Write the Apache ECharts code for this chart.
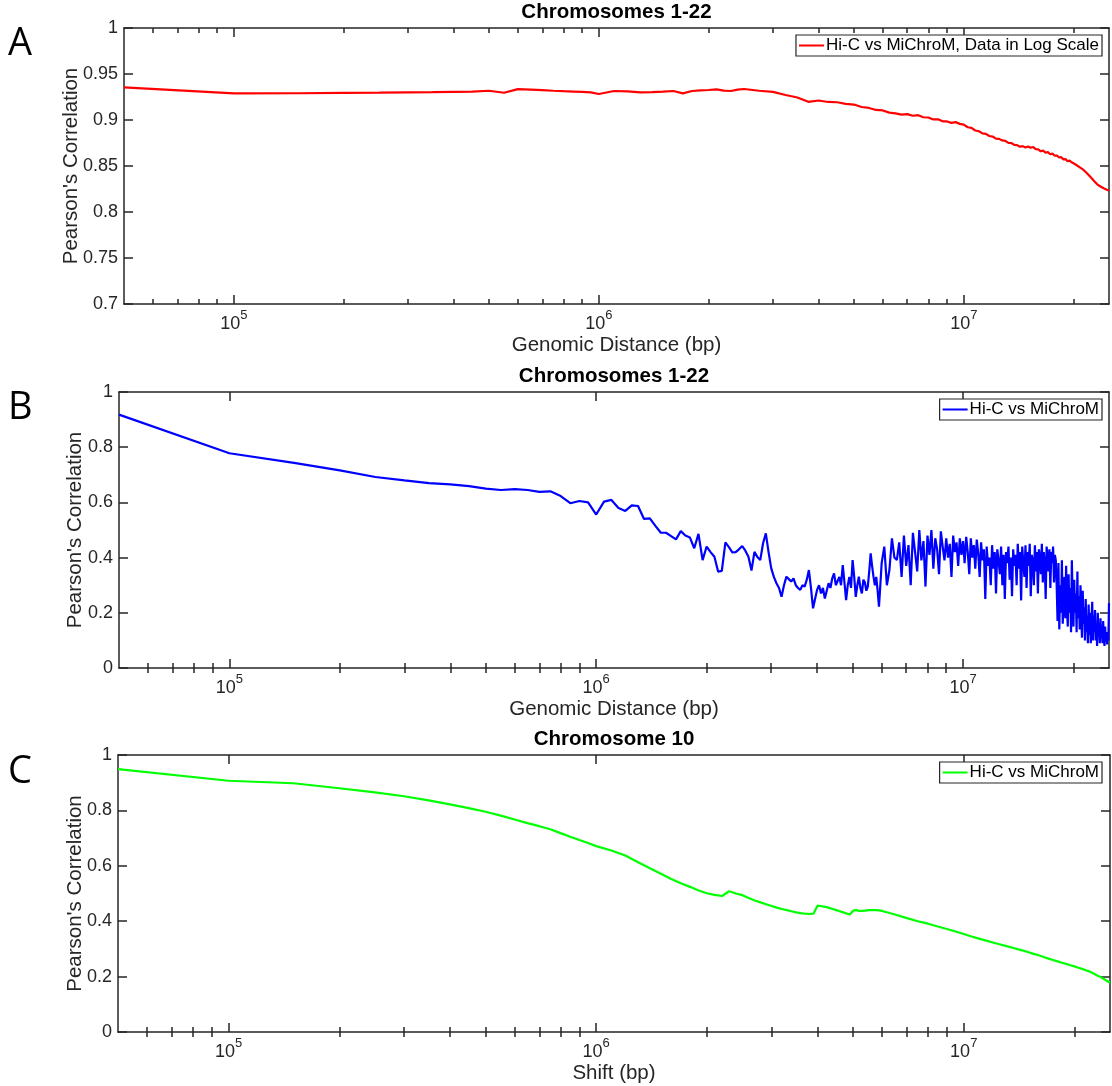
<!DOCTYPE html>
<html>
<head>
<meta charset="utf-8">
<script src="https://cdn.jsdelivr.net/npm/echarts@6/dist/echarts.min.js"></script>
<style>
  html, body { margin: 0; padding: 0; background: #fff; }
  #chart { width: 1112px; height: 1086px; }
</style>
</head>
<body>
<div id="chart"></div>
<script>
// ---- tick positions on the genomic-distance axis (bp) ----
const decadeTicks = [1e5, 1e6, 1e7];
const minorTicks = [6e4, 7e4, 8e4, 9e4,
  2e5, 3e5, 4e5, 5e5, 6e5, 7e5, 8e5, 9e5,
  2e6, 3e6, 4e6, 5e6, 6e6, 7e6, 8e6, 9e6,
  2e7];
const X_MIN = 5e4;
const X_MAX = 2.5e7;

// ---- A: Hi-C vs MiChroM, log-scaled maps, chromosomes 1-22 ----
// 50 kb bins, 50 kb .. 1 Mb
const corrA_near = [0.9355, 0.9290, 0.9291, 0.9294, 0.9297, 0.9301, 0.9303, 0.9306, 0.9308, 0.9318,
  0.9296, 0.9336, 0.9331, 0.9325, 0.9318, 0.9313, 0.9309, 0.9305, 0.9300, 0.9283];
// 100 kb steps, 1.1 Mb .. 2.5 Mb
const corrA_mid = [0.9315, 0.9312, 0.9301, 0.9304, 0.9308, 0.9315, 0.9290, 0.9315, 0.9322, 0.9326,
  0.9333, 0.9319, 0.9315, 0.9330, 0.9337];
// 250 kb steps, 2.75 Mb .. 25 Mb
const corrA_far = [0.9318, 0.9305, 0.9272, 0.9245, 0.9198, 0.9212, 0.9196, 0.9193, 0.9176, 0.9168,
  0.9141, 0.9131, 0.9109, 0.9104, 0.9080, 0.9072, 0.9059, 0.9064, 0.9046, 0.9052,
  0.9030, 0.9027, 0.9006, 0.9008, 0.8986, 0.8984, 0.8969, 0.8977, 0.8958, 0.8950,
  0.8921, 0.8914, 0.8886, 0.8878, 0.8854, 0.8850, 0.8826, 0.8820, 0.8798, 0.8795,
  0.8778, 0.8774, 0.8752, 0.8750, 0.8729, 0.8727, 0.8709, 0.8716, 0.8702, 0.8712,
  0.8698, 0.8706, 0.8684, 0.8681, 0.8660, 0.8667, 0.8645, 0.8650, 0.8628, 0.8634,
  0.8612, 0.8614, 0.8592, 0.8596, 0.8572, 0.8575, 0.8552, 0.8558, 0.8540, 0.8544,
  0.8516, 0.8515, 0.8488, 0.8486, 0.8460, 0.8454, 0.8422, 0.8415, 0.8380, 0.8372,
  0.8338, 0.8332, 0.8298, 0.8296, 0.8274, 0.8276, 0.8255, 0.8254, 0.8238, 0.8235];

// ---- B: Hi-C vs MiChroM, chromosomes 1-22 ----
// 50 kb bins, 50 kb .. 3 Mb
const corrB_near = [0.918, 0.778, 0.743, 0.716, 0.692, 0.680, 0.670, 0.665, 0.659, 0.650,
  0.645, 0.648, 0.645, 0.638, 0.640, 0.623, 0.597, 0.605, 0.600, 0.556,
  0.603, 0.609, 0.580, 0.569, 0.589, 0.587, 0.540, 0.542, 0.515, 0.490,
  0.490, 0.478, 0.466, 0.496, 0.480, 0.473, 0.434, 0.486, 0.391, 0.440,
  0.420, 0.403, 0.349, 0.352, 0.455, 0.438, 0.419, 0.420, 0.430, 0.442,
  0.425, 0.403, 0.353, 0.421, 0.402, 0.391, 0.452, 0.488, 0.420, 0.361];
// 50 kb bins, 3.05 Mb .. 6 Mb
const corrB_mid = [0.330, 0.307, 0.290, 0.258, 0.300, 0.331, 0.322, 0.313, 0.325, 0.300,
  0.290, 0.283, 0.300, 0.295, 0.320, 0.355, 0.290, 0.216, 0.250, 0.283,
  0.300, 0.270, 0.290, 0.252, 0.280, 0.307, 0.290, 0.325, 0.343, 0.300,
  0.295, 0.330, 0.300, 0.373, 0.310, 0.246, 0.300, 0.330, 0.290, 0.391,
  0.330, 0.258, 0.300, 0.331, 0.290, 0.270, 0.320, 0.310, 0.280, 0.295,
  0.350, 0.415, 0.370, 0.331, 0.300, 0.330, 0.280, 0.222, 0.300, 0.380];
// 100 kb steps, 6.1 Mb .. 25 Mb
const corrB_far = [
  0.440, 0.300, 0.355, 0.470, 0.400, 0.391, 0.455, 0.330, 0.480,
  0.370, 0.445, 0.300, 0.490, 0.420, 0.350, 0.500, 0.390, 0.460, 0.295,
  0.480, 0.410, 0.500, 0.360, 0.470, 0.430, 0.340, 0.495, 0.440, 0.390,
  0.470, 0.400, 0.450, 0.330, 0.480, 0.420, 0.455, 0.370, 0.470, 0.410,
  0.460, 0.380, 0.475, 0.420, 0.340, 0.470, 0.400, 0.445, 0.360, 0.465,
  0.415, 0.330, 0.455, 0.390, 0.430, 0.250, 0.440, 0.370, 0.400, 0.300,
  0.445, 0.360, 0.420, 0.270, 0.430, 0.390, 0.340, 0.440, 0.300, 0.410,
  0.250, 0.420, 0.380, 0.440, 0.320, 0.400, 0.260, 0.430, 0.370, 0.410,
  0.300, 0.450, 0.360, 0.420, 0.245, 0.440, 0.380, 0.330, 0.445, 0.290,
  0.420, 0.370, 0.450, 0.260, 0.410, 0.390, 0.300, 0.445, 0.350, 0.420,
  0.270, 0.430, 0.400, 0.340, 0.450, 0.310, 0.420, 0.380, 0.250, 0.440,
  0.400, 0.350, 0.430, 0.290, 0.420, 0.380, 0.440, 0.310, 0.410, 0.390,
  0.300, 0.170, 0.380, 0.140, 0.300, 0.200, 0.390, 0.160, 0.260, 0.330,
  0.180, 0.370, 0.220, 0.150, 0.340, 0.200, 0.290, 0.130, 0.390, 0.240,
  0.150, 0.320, 0.200, 0.270, 0.130, 0.350, 0.180, 0.260, 0.140, 0.300,
  0.200, 0.110, 0.280, 0.160, 0.220, 0.100, 0.250, 0.130, 0.190, 0.090,
  0.230, 0.120, 0.200, 0.090, 0.170, 0.240, 0.100, 0.190, 0.130, 0.210,
  0.100, 0.160, 0.080, 0.200, 0.120, 0.150, 0.090, 0.180, 0.110, 0.140,
  0.090, 0.170, 0.110, 0.080, 0.150, 0.100, 0.130, 0.085, 0.120, 0.100, 0.235];

// ---- C: Hi-C vs MiChroM against shift, chromosome 10 ----
// 50 kb bins, 50 kb .. 1 Mb
const corrC_near = [0.949, 0.907, 0.898, 0.880, 0.865, 0.851, 0.836, 0.822, 0.808, 0.795,
  0.781, 0.767, 0.754, 0.743, 0.732, 0.718, 0.705, 0.693, 0.682, 0.671];
// 100 kb steps, 1.1 Mb .. 6 Mb
const corrC_mid = [0.655, 0.637, 0.613, 0.591, 0.571, 0.552, 0.537, 0.524, 0.511, 0.501,
  0.495, 0.491, 0.508, 0.500, 0.494, 0.484, 0.475, 0.468, 0.461, 0.455,
  0.449, 0.444, 0.440, 0.436, 0.432, 0.429, 0.427, 0.426, 0.427, 0.456,
  0.454, 0.452, 0.448, 0.444, 0.440, 0.436, 0.432, 0.428, 0.424, 0.438,
  0.440, 0.437, 0.437, 0.438, 0.440, 0.440, 0.440, 0.440, 0.439, 0.437];
// 500 kb steps, 6.5 Mb .. 25 Mb
const corrC_far = [0.424, 0.411, 0.400, 0.391, 0.381, 0.372, 0.363, 0.354, 0.345, 0.337,
  0.330, 0.323, 0.317, 0.311, 0.305, 0.299, 0.294, 0.288, 0.282, 0.277,
  0.271, 0.265, 0.260, 0.255, 0.250, 0.246, 0.241, 0.237, 0.232, 0.228,
  0.223, 0.218, 0.212, 0.205, 0.199, 0.192, 0.185, 0.178];

// pair each value with the genomic distance of its bin
function binned(startBp, stepBp, values) {
  return values.map((v, i) => [startBp + i * stepBp, v]);
}

const seriesA = [].concat(
  binned(5e4, 5e4, corrA_near), binned(1.1e6, 1e5, corrA_mid), binned(2.75e6, 2.5e5, corrA_far));
const seriesB = [].concat(
  binned(5e4, 5e4, corrB_near), binned(3.05e6, 5e4, corrB_mid), binned(6.1e6, 1e5, corrB_far));
const seriesC = [].concat(
  binned(5e4, 5e4, corrC_near), binned(1.1e6, 1e5, corrC_mid), binned(6.5e6, 5e5, corrC_far));

const FONT = '"Liberation Sans", Arial, Helvetica, sans-serif';
const INK = '#262626';

const panels = [
  { letter: 'A', title: 'Chromosomes 1-22', xName: 'Genomic Distance (bp)',
    name: 'Hi-C vs MiChroM, Data in Log Scale', color: '#ff0000', data: seriesA,
    yMin: 0.7, yMax: 1, yStep: 0.05,
    left: 124, top: 28, width: 985, height: 276, yNameGap: 42, legendTop: 35, letterY: 44 },
  { letter: 'B', title: 'Chromosomes 1-22', xName: 'Genomic Distance (bp)',
    name: 'Hi-C vs MiChroM', color: '#0000ff', data: seriesB,
    yMin: 0, yMax: 1, yStep: 0.2,
    left: 119, top: 392, width: 990, height: 276, yNameGap: 33, legendTop: 399, letterY: 408 },
  { letter: 'C', title: 'Chromosome 10', xName: 'Shift (bp)',
    name: 'Hi-C vs MiChroM', color: '#00ff00', data: seriesC,
    yMin: 0, yMax: 1, yStep: 0.2,
    left: 118, top: 755, width: 992, height: 277, yNameGap: 32, legendTop: 762, letterY: 772 }
];

const boxLine = { color: INK, width: 1.5 };

const grid = [], xAxis = [], yAxis = [], series = [], legend = [], graphic = [];

panels.forEach((p, g) => {
  grid.push({ left: p.left, top: p.top, width: p.width, height: p.height, containLabel: false });

  const logAxis = (extra) => Object.assign({
    gridIndex: g, type: 'log', logBase: 10, min: X_MIN, max: X_MAX,
    splitLine: { show: false }, minorTick: { show: false }, minorSplitLine: { show: false },
    axisPointer: { show: false }
  }, extra);

  // bottom: decades with labels
  xAxis.push(logAxis({
    position: 'bottom',
    name: p.xName, nameLocation: 'middle', nameGap: 31, nameMoveOverlap: false,
    nameTextStyle: { fontFamily: FONT, fontSize: 20.5, color: INK },
    axisLine: { show: true, onZero: false, lineStyle: boxLine },
    axisTick: { show: true, inside: true, length: 9, customValues: decadeTicks, lineStyle: boxLine },
    axisLabel: {
      show: true, customValues: decadeTicks, margin: 5,
      formatter: v => '{b|10}{s|' + Math.round(Math.log10(v)) + '}',
      rich: {
        b: { fontFamily: FONT, fontSize: 18, color: INK, padding: [6, 0, 0, 0], verticalAlign: 'bottom' },
        s: { fontFamily: FONT, fontSize: 13, color: INK, verticalAlign: 'top' }
      }
    }
  }));
  // bottom: intermediate ticks
  xAxis.push(logAxis({
    position: 'bottom',
    axisLine: { show: false },
    axisTick: { show: true, inside: true, length: 5, customValues: minorTicks, lineStyle: boxLine },
    axisLabel: { show: false }
  }));
  // top edge of the box
  xAxis.push(logAxis({
    position: 'top',
    axisLine: { show: true, onZero: false, lineStyle: boxLine },
    axisTick: { show: true, inside: true, length: 9, customValues: decadeTicks, lineStyle: boxLine },
    axisLabel: { show: false }
  }));
  xAxis.push(logAxis({
    position: 'top',
    axisLine: { show: false },
    axisTick: { show: true, inside: true, length: 5, customValues: minorTicks, lineStyle: boxLine },
    axisLabel: { show: false }
  }));

  yAxis.push({
    gridIndex: g, type: 'value', position: 'left',
    min: p.yMin, max: p.yMax, interval: p.yStep,
    name: "Pearson's Correlation", nameLocation: 'middle', nameGap: p.yNameGap, nameRotate: 90,
    nameMoveOverlap: false,
    nameTextStyle: { fontFamily: FONT, fontSize: 20.5, color: INK },
    axisLine: { show: true, onZero: false, lineStyle: boxLine },
    axisTick: { show: true, inside: true, length: 9, lineStyle: boxLine },
    axisLabel: { show: true, margin: 6, fontFamily: FONT, fontSize: 18, color: INK },
    splitLine: { show: false }
  });
  yAxis.push({
    gridIndex: g, type: 'value', position: 'right',
    min: p.yMin, max: p.yMax, interval: p.yStep,
    axisLine: { show: true, onZero: false, lineStyle: boxLine },
    axisTick: { show: true, inside: true, length: 9, lineStyle: boxLine },
    axisLabel: { show: false },
    splitLine: { show: false }
  });

  series.push({
    type: 'line', name: p.name,
    xAxisIndex: 4 * g, yAxisIndex: 2 * g,
    data: p.data, showSymbol: false, symbol: 'none',
    lineStyle: { color: p.color, width: 2.2 }, itemStyle: { color: p.color },
    animation: false, silent: true, z: 3
  });

  legend.push({
    data: [{ name: p.name, itemStyle: { color: p.color } }],
    right: 10, top: p.legendTop, orient: 'horizontal',
    icon: 'rect', itemWidth: 25, itemHeight: 2, itemGap: 0,
    padding: [2, 3, 2, 3], borderColor: INK, borderWidth: 1.2, backgroundColor: '#fff',
    selectedMode: false,
    textStyle: { fontFamily: FONT, fontSize: 17, color: '#000', padding: [0, 0, 0, -3] }
  });

  graphic.push({
    type: 'text', x: p.left + p.width / 2, y: p.top - 16,
    style: { text: p.title, font: 'bold 20.5px ' + FONT, fill: '#000',
      align: 'center', verticalAlign: 'middle', textAlign: 'center', textVerticalAlign: 'middle' }
  });
  graphic.push({
    type: 'text', x: 8, y: p.letterY,
    style: { text: p.letter, font: '38px "Open Sans", "Noto Sans", sans-serif', fill: '#000',
      align: 'left', verticalAlign: 'middle', textAlign: 'left', textVerticalAlign: 'middle' }
  });
});

const chart = echarts.init(document.getElementById('chart'), null, { renderer: 'canvas' });
chart.setOption({
  backgroundColor: '#fff',
  animation: false,
  grid, xAxis, yAxis, series, legend, graphic
});
</script>
</body>
</html>
